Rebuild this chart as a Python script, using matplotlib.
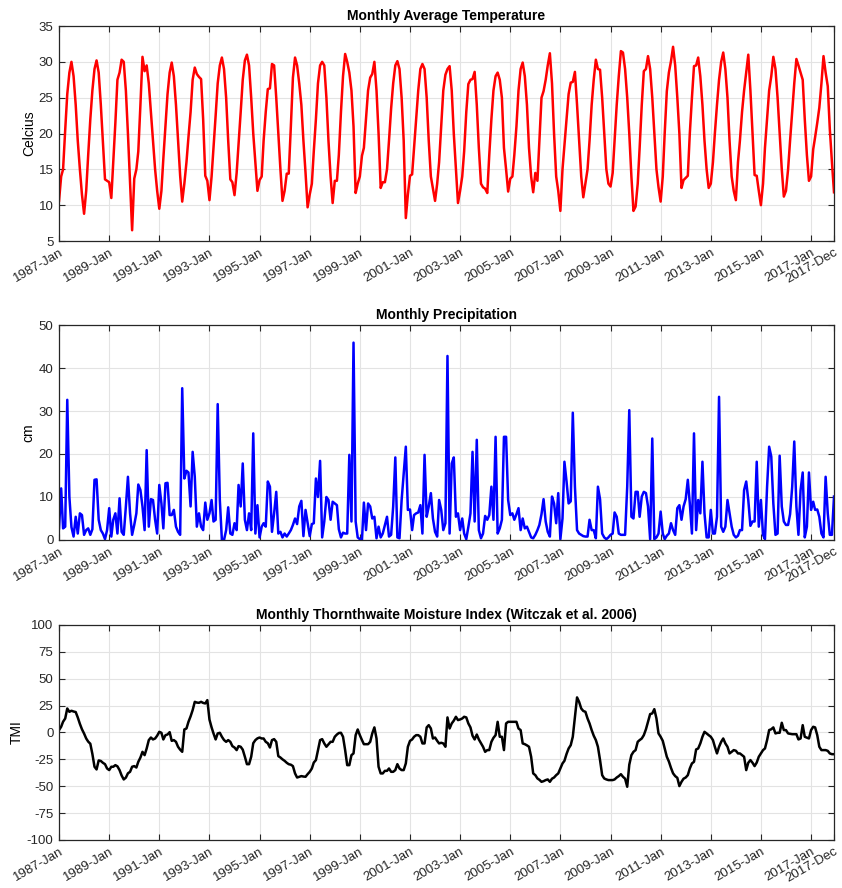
import numpy as np
import pandas as pd
import matplotlib
matplotlib.use('Agg')
import matplotlib.pyplot as plt
import matplotlib.dates as mdates

plt.rcParams['font.family'] = ['Liberation Sans', 'DejaVu Sans']
plt.rcParams['axes.unicode_minus'] = False

# monthly series, one row per year, 1987-Jan .. 2017-Dec
temp_c = [
    10.6, 14.0, 15.0, 20.5, 25.5, 28.5, 30.0, 28.0, 24.0, 19.0, 15.0, 11.5,
    8.8, 12.0, 17.0, 22.0, 26.0, 29.0, 30.2, 28.5, 24.0, 19.0, 13.6, 13.4,
    13.2, 11.0, 16.0, 21.5, 27.5, 28.5, 30.3, 30.0, 26.0, 20.0, 13.0, 6.5,
    13.7, 15.0, 17.5, 24.0, 30.7, 28.7, 29.5, 27.0, 23.0, 19.0, 15.0, 12.0,
    9.5, 12.0, 16.5, 21.0, 25.5, 28.5, 29.9, 28.0, 24.0, 19.0, 14.1, 10.5,
    13.0, 16.0, 19.5, 23.0, 27.5, 29.2, 28.3, 27.9, 27.6, 22.0, 14.1, 13.4,
    10.7, 14.0, 18.0, 22.5, 27.0, 29.5, 30.6, 29.0, 25.0, 19.0, 13.6, 13.2,
    11.4, 14.5, 18.5, 23.0, 27.5, 30.2, 31.0, 29.5, 25.0, 20.0, 16.0, 12.0,
    13.5, 14.0, 19.0, 23.0, 26.2, 26.3, 29.7, 29.5, 25.0, 20.0, 15.0, 10.6,
    12.0, 14.4, 14.4, 21.0, 27.8, 30.6, 29.5, 27.0, 24.0, 19.0, 14.5, 9.7,
    11.5, 13.0, 17.5, 22.0, 27.0, 29.5, 30.0, 29.5, 25.0, 19.0, 14.0, 10.3,
    13.4, 13.4, 17.0, 23.0, 28.0, 31.1, 30.0, 28.5, 26.0, 21.0, 11.7, 13.0,
    14.0, 16.9, 18.0, 22.0, 26.0, 27.8, 28.3, 30.0, 26.0, 20.0, 12.4, 13.2,
    13.2, 15.0, 19.0, 23.5, 27.0, 29.5, 30.1, 29.0, 25.0, 19.0, 8.2, 11.5,
    14.1, 14.3, 18.0, 22.0, 26.0, 29.0, 29.7, 29.0, 25.0, 19.0, 14.0, 12.3,
    10.6, 13.0, 16.0, 21.0, 26.0, 28.2, 29.0, 29.4, 26.0, 20.0, 15.0, 10.3,
    12.0, 14.0, 17.5, 23.0, 26.9, 27.5, 27.6, 28.6, 24.0, 18.0, 13.0, 12.5,
    12.3, 11.7, 17.0, 22.0, 26.0, 28.0, 28.5, 27.5, 25.0, 18.0, 15.0, 11.9,
    13.7, 14.0, 17.0, 21.0, 26.0, 29.0, 29.9, 28.0, 24.0, 18.0, 14.0, 11.8,
    14.5, 13.4, 19.0, 25.0, 25.9, 27.5, 29.5, 31.2, 27.0, 20.0, 14.0, 12.0,
    9.2, 15.0, 18.4, 22.0, 25.5, 27.1, 27.2, 28.6, 24.0, 19.0, 14.0, 11.1,
    13.0, 15.0, 19.0, 24.0, 27.5, 30.3, 29.0, 28.9, 25.0, 20.0, 15.0, 13.0,
    12.6, 14.5, 19.0, 24.0, 28.0, 31.5, 31.3, 29.0, 25.0, 20.0, 14.0, 9.2,
    9.8, 13.0, 18.0, 24.0, 28.7, 29.0, 30.8, 29.0, 25.0, 20.0, 15.0, 12.5,
    10.5, 14.0, 20.0, 25.9, 28.5, 30.1, 32.1, 29.5, 25.0, 20.0, 12.4, 13.5,
    13.8, 14.1, 20.0, 25.0, 29.4, 29.5, 30.6, 28.0, 24.0, 19.0, 15.0, 12.4,
    13.0, 16.0, 20.0, 24.0, 27.5, 30.0, 31.3, 29.0, 25.0, 19.0, 14.0, 12.0,
    10.7, 16.0, 19.0, 23.0, 26.0, 28.5, 31.0, 26.0, 20.0, 14.2, 14.1, 12.0,
    10.0, 13.0, 18.0, 22.0, 26.0, 28.0, 30.7, 29.0, 25.0, 20.0, 15.0, 11.2,
    12.0, 15.0, 19.0, 23.0, 27.0, 30.4, 29.5, 28.5, 27.5, 22.0, 17.0, 13.4,
    14.0, 17.8, 19.5, 21.5, 23.6, 27.0, 30.8, 28.5, 26.6, 20.6, 16.0, 11.8,
]

precip_cm = [
    2.7, 12.0, 2.7, 3.1, 32.6, 10.0, 3.0, 0.8, 5.4, 1.5, 6.2, 5.8,
    1.2, 2.3, 2.7, 1.2, 2.5, 14.0, 14.1, 4.7, 2.3, 1.5, 0.2, 2.3,
    7.4, 0.8, 4.7, 6.2, 1.5, 9.7, 1.9, 1.2, 7.8, 14.7, 6.2, 1.2,
    3.5, 6.2, 12.9, 11.6, 7.8, 2.3, 20.9, 3.1, 9.5, 9.3, 4.7, 1.5,
    12.8, 8.5, 2.7, 13.2, 13.3, 5.8, 5.8, 7.0, 3.1, 1.9, 1.2, 35.3,
    14.3, 16.1, 15.7, 7.8, 20.5, 14.7, 3.1, 6.2, 3.1, 2.3, 8.7, 4.7,
    6.2, 9.3, 4.3, 4.7, 31.6, 9.3, 0.0, 0.0, 2.3, 7.6, 1.5, 1.2,
    3.9, 2.3, 12.8, 7.8, 17.8, 4.7, 2.3, 6.2, 2.3, 24.8, 1.5, 8.1,
    0.6, 3.1, 3.9, 3.1, 13.6, 12.4, 1.9, 6.2, 11.2, 1.5, 1.9, 0.6,
    1.5, 0.8, 1.5, 2.3, 3.5, 5.0, 3.7, 7.8, 9.1, 0.9, 7.0, 4.0,
    0.9, 3.7, 3.9, 14.3, 10.0, 18.4, 0.6, 4.3, 10.0, 9.3, 4.7, 8.9,
    8.5, 8.1, 2.5, 0.6, 1.7, 1.5, 1.5, 19.8, 4.3, 45.9, 4.3, 0.6,
    0.2, 0.0, 8.7, 2.3, 8.5, 7.8, 5.0, 5.4, 0.4, 3.1, 0.6, 1.5,
    3.5, 5.4, 0.8, 1.2, 7.8, 19.2, 0.6, 0.4, 9.3, 15.5, 21.7, 7.0,
    7.1, 2.3, 5.8, 6.2, 6.4, 8.1, 1.5, 19.8, 5.4, 7.8, 10.9, 5.0,
    1.9, 0.8, 9.3, 7.0, 2.3, 3.9, 42.8, 1.5, 17.8, 19.2, 5.4, 6.2,
    2.3, 5.0, 1.5, 0.2, 3.0, 6.2, 20.5, 4.3, 23.3, 2.3, 0.4, 1.5,
    5.6, 4.7, 5.8, 12.4, 4.7, 24.0, 1.5, 2.7, 4.7, 24.0, 24.0, 9.3,
    5.8, 6.2, 4.7, 6.0, 7.4, 2.3, 5.0, 2.7, 3.1, 1.9, 0.6, 0.4,
    1.2, 2.3, 3.5, 6.0, 9.5, 4.3, 1.9, 0.8, 10.1, 8.5, 3.9, 10.9,
    0.2, 5.0, 18.2, 13.6, 8.5, 9.0, 29.6, 12.4, 2.3, 1.5, 1.2, 0.9,
    0.8, 0.8, 4.7, 2.3, 2.3, 0.4, 12.4, 9.5, 1.5, 0.6, 0.2, 0.6,
    1.2, 1.5, 6.4, 5.4, 1.5, 1.2, 1.2, 1.2, 12.4, 30.2, 5.4, 5.0,
    11.2, 11.2, 5.4, 10.1, 11.2, 10.9, 7.8, 0.2, 23.6, 0.2, 0.6, 1.5,
    6.6, 1.5, 0.2, 1.0, 1.5, 3.9, 2.3, 1.2, 7.4, 8.1, 4.7, 7.8,
    9.5, 14.0, 8.5, 1.5, 24.8, 2.3, 9.3, 6.2, 18.2, 6.2, 0.6, 0.6,
    7.0, 1.5, 1.5, 5.4, 33.3, 3.1, 1.9, 3.1, 9.3, 6.2, 3.1, 1.2,
    0.6, 1.0, 2.3, 2.3, 11.6, 13.6, 9.3, 3.3, 4.3, 4.3, 18.2, 3.1,
    9.3, 1.2, 0.2, 12.4, 21.7, 19.4, 8.5, 1.2, 1.5, 19.6, 7.8, 4.3,
    3.5, 3.5, 6.0, 12.4, 22.9, 7.8, 1.2, 11.6, 15.7, 0.6, 3.1, 15.7,
    7.0, 8.9, 7.0, 7.1, 5.4, 1.5, 0.6, 14.7, 6.2, 1.2, 1.2, 10.1,
]

tmi = [
    2.2, 5.3, 10.0, 13.0, 22.3, 19.2, 20.2, 19.5, 19.0, 14.0, 8.0, 3.0,
    -1.0, -5.6, -8.5, -10.5, -20.0, -31.9, -34.4, -26.0, -26.5, -28.2, -29.5, -33.5,
    -35.0, -31.9, -31.9, -30.4, -31.5, -35.0, -40.0, -43.7, -42.0, -38.0, -36.6, -31.9,
    -31.3, -32.6, -27.3, -23.3, -18.0, -21.1, -14.9, -7.1, -4.7, -6.5, -5.6, -3.0,
    0.6, -0.3, -6.5, -2.5, -1.9, 0.3, -7.8, -7.1, -8.7, -13.3, -16.0, -18.0,
    2.8, 3.7, 9.9, 15.0, 20.8, 28.5, 27.8, 27.6, 28.5, 27.5, 27.0, 30.1,
    12.0, 4.7, -0.9, -6.5, -0.9, -0.3, -4.0, -7.0, -8.7, -7.1, -8.7, -12.7,
    -14.0, -16.4, -12.7, -13.3, -16.0, -22.6, -29.5, -29.5, -22.6, -10.0, -7.1, -5.5,
    -4.7, -5.6, -5.6, -8.7, -10.0, -14.0, -7.1, -6.2, -8.7, -22.0, -23.3, -25.0,
    -26.4, -28.2, -29.5, -30.0, -31.3, -38.1, -41.9, -41.2, -40.6, -41.0, -41.2, -38.8,
    -36.6, -33.5, -28.0, -25.7, -16.4, -7.1, -6.2, -10.2, -13.3, -11.0, -8.7, -8.7,
    -4.0, -1.9, -0.5, -0.3, -4.0, -16.4, -30.4, -30.4, -21.1, -19.5, -2.5, 2.8,
    -2.5, -7.1, -10.9, -10.9, -10.9, -8.7, -0.9, 4.7, -5.6, -31.9, -38.1, -38.1,
    -35.7, -35.7, -33.5, -36.6, -36.6, -35.0, -29.5, -33.5, -35.0, -35.0, -28.8, -13.3,
    -7.8, -6.5, -4.0, -2.5, -2.5, -4.0, -10.2, -10.2, 4.7, 6.8, 3.7, -5.6,
    -4.7, -7.8, -10.2, -9.6, -10.2, -13.3, 14.0, 3.7, 8.4, 11.0, 14.6, 11.5,
    12.1, 13.0, 14.6, 14.0, 8.4, 4.7, -3.0, -6.5, -1.9, -6.5, -10.0, -13.3,
    -18.0, -16.4, -16.4, -8.7, -5.0, -2.5, 9.9, -4.0, -4.0, -16.4, 8.4, 9.9,
    9.9, 9.9, 9.9, 9.9, 3.7, 2.2, -10.2, -10.9, -12.0, -13.3, -22.6, -38.1,
    -39.7, -42.8, -44.0, -45.9, -45.3, -44.3, -43.7, -45.9, -43.0, -41.9, -39.7, -38.1,
    -33.5, -28.8, -26.4, -20.0, -14.9, -11.8, -4.0, 14.6, 32.6, 28.5, 22.3, 20.0,
    19.2, 13.0, 8.4, 2.2, -3.0, -7.1, -13.3, -25.7, -39.7, -42.8, -43.7, -44.3,
    -44.3, -44.3, -43.7, -41.9, -40.6, -38.8, -41.2, -43.0, -50.5, -30.0, -21.1, -18.0,
    -16.4, -8.7, -7.1, -5.6, -2.5, 3.0, 10.0, 17.1, 17.7, 21.7, 13.0, -0.9,
    -4.0, -7.8, -14.9, -22.6, -27.0, -33.0, -38.0, -40.6, -42.2, -49.9, -45.9, -43.0,
    -41.9, -39.7, -33.5, -28.8, -27.3, -15.8, -14.9, -10.2, -4.0, 0.6, -0.9, -2.5,
    -4.0, -7.1, -13.3, -19.5, -13.3, -8.7, -5.6, -10.2, -13.3, -19.5, -18.0, -16.4,
    -17.0, -19.5, -19.5, -21.1, -22.6, -35.0, -28.2, -25.7, -28.2, -31.3, -28.0, -22.6,
    -19.5, -16.4, -14.9, -7.1, 2.2, 3.0, 4.7, -0.9, -0.3, -0.3, 9.0, 2.2,
    2.2, -0.9, -1.2, -1.6, -1.6, -1.6, -6.5, -5.6, 6.8, -4.0, -4.8, -5.6,
    2.2, 5.3, 4.7, -2.5, -13.3, -16.4, -16.4, -16.4, -17.1, -19.5, -20.2, -20.2,
]

months = pd.date_range('1987-01-01', '2017-12-01', freq='MS')
tick_dates = list(pd.date_range('1987-01-01', '2017-01-01', freq='24MS')) + [pd.Timestamp('2017-12-01')]
tick_labels = [d.strftime('%Y-%b') for d in tick_dates]

panels = [
    (temp_c, '#ff0000', 'Monthly Average Temperature', 'Celcius', (5, 35), np.arange(5, 36, 5)),
    (precip_cm, '#0000ff', 'Monthly Precipitation', 'cm', (0, 50), np.arange(0, 51, 10)),
    (tmi, '#000000', 'Monthly Thornthwaite Moisture Index (Witczak et al. 2006)', 'TMI',
     (-100, 100), np.arange(-100, 101, 25)),
]
bottoms = [0.7286, 0.3919, 0.0541]

fig = plt.figure(figsize=(8.42, 8.88), dpi=100)

for (vals, color, title, ylab, ylim, yticks), b in zip(panels, bottoms):
    ax = fig.add_axes([0.0701, b, 0.9204, 0.2421])
    ax.plot(months, vals, color=color, lw=1.8)
    ax.set_xlim(months[0], months[-1])
    ax.set_ylim(*ylim)
    ax.set_yticks(yticks)
    ax.set_xticks(tick_dates)
    ax.set_xticklabels(tick_labels, rotation=30, ha='right', rotation_mode='anchor')
    ax.grid(True, color='#e3e3e3', lw=0.8)
    ax.set_axisbelow(True)
    ax.tick_params(direction='in', top=True, right=True, labelsize=9.5,
                   colors='#262626', length=4, pad=4)
    for s in ax.spines.values():
        s.set_color('#262626')
        s.set_linewidth(0.9)
    ax.set_title(title, fontsize=10, fontweight='bold', pad=4)
    ax.set_ylabel(ylab, fontsize=10, labelpad=2)

fig.savefig('out.png', dpi=100)
